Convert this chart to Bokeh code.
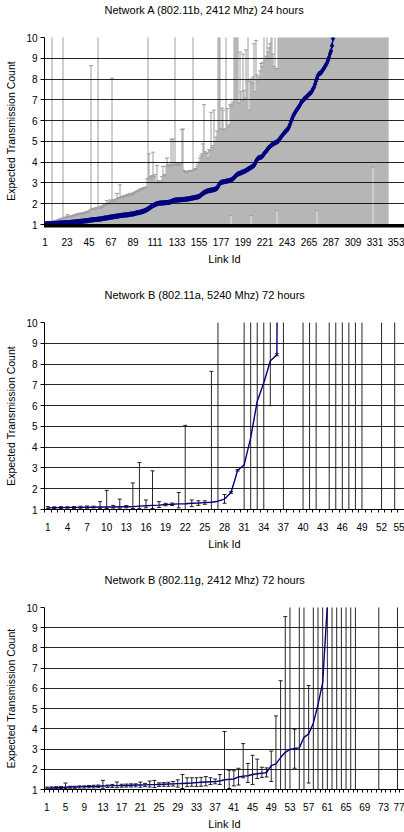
import numpy as np
from bokeh.plotting import figure
from bokeh.layouts import column
from bokeh.models import ColumnDataSource, FixedTicker, Range1d, Title
from bokeh.embed import file_html
from bokeh.resources import INLINE

X = 15.0   # upper end of a bar that leaves the top of the chart (> 10)
_ = None   # nothing drawn for this link

TITLES = ["Network A (802.11b, 2412 Mhz) 24 hours",
          "Network B (802.11a, 5240 Mhz) 72 hours",
          "Network B (802.11g, 2412 Mhz) 72 hours"]
Y_LABEL = "Expected Transmission Count"
X_LABEL = "Link Id"
Y_TICKS = [1, 2, 3, 4, 5, 6, 7, 8, 9, 10]

# ---------------- Network A (802.11b) : 360 links ----------------
links_a = list(range(1, 361))
ticks_a = [1, 23, 45, 67, 89, 111, 133, 155, 177, 199, 221, 243, 265, 287, 309, 331, 353]
mean_a = [
    1.02, 1.02, 1.03, 1.03, 1.03, 1.04, 1.04, 1.04, 1.05, 1.05,
    1.05, 1.05, 1.06, 1.06, 1.06, 1.07, 1.07, 1.07, 1.08, 1.08,
    1.08, 1.09, 1.09, 1.09, 1.10, 1.10, 1.10, 1.11, 1.11, 1.12,
    1.12, 1.13, 1.13, 1.14, 1.14, 1.15, 1.15, 1.16, 1.16, 1.17,
    1.17, 1.18, 1.18, 1.19, 1.20, 1.21, 1.22, 1.22, 1.23, 1.23,
    1.24, 1.24, 1.25, 1.25, 1.26, 1.26, 1.27, 1.28, 1.29, 1.30,
    1.31, 1.31, 1.32, 1.33, 1.34, 1.35, 1.36, 1.36, 1.37, 1.38,
    1.39, 1.40, 1.40, 1.41, 1.42, 1.43, 1.43, 1.44, 1.45, 1.45,
    1.46, 1.46, 1.47, 1.47, 1.48, 1.49, 1.50, 1.50, 1.51, 1.52,
    1.53, 1.55, 1.56, 1.57, 1.58, 1.59, 1.60, 1.62, 1.63, 1.65,
    1.67, 1.69, 1.72, 1.75, 1.78, 1.81, 1.85, 1.88, 1.91, 1.93,
    1.96, 1.98, 2.00, 2.01, 2.02, 2.03, 2.03, 2.04, 2.04, 2.05,
    2.05, 2.05, 2.06, 2.06, 2.07, 2.08, 2.10, 2.12, 2.14, 2.16,
    2.17, 2.18, 2.18, 2.18, 2.19, 2.19, 2.19, 2.20, 2.20, 2.21,
    2.21, 2.22, 2.22, 2.23, 2.24, 2.25, 2.26, 2.27, 2.28, 2.29,
    2.30, 2.31, 2.32, 2.33, 2.35, 2.38, 2.42, 2.46, 2.50, 2.53,
    2.56, 2.58, 2.60, 2.62, 2.63, 2.64, 2.65, 2.66, 2.67, 2.68,
    2.70, 2.72, 2.75, 2.82, 2.92, 2.99, 3.02, 3.04, 3.05, 3.06,
    3.07, 3.08, 3.09, 3.10, 3.11, 3.12, 3.14, 3.17, 3.20, 3.25,
    3.30, 3.36, 3.40, 3.43, 3.45, 3.47, 3.49, 3.51, 3.53, 3.55,
    3.57, 3.60, 3.63, 3.66, 3.69, 3.72, 3.75, 3.78, 3.81, 3.85,
    3.92, 4.05, 4.12, 4.19, 4.21, 4.23, 4.24, 4.28, 4.33, 4.40,
    4.46, 4.52, 4.58, 4.65, 4.70, 4.75, 4.80, 4.84, 4.87, 4.90,
    4.93, 4.95, 4.98, 5.00, 5.08, 5.15, 5.20, 5.27, 5.33, 5.40,
    5.45, 5.50, 5.55, 5.60, 5.70, 5.82, 5.95, 6.08, 6.20, 6.30,
    6.38, 6.46, 6.54, 6.60, 6.68, 6.76, 6.85, 6.92, 6.98, 7.03,
    7.08, 7.12, 7.17, 7.22, 7.27, 7.31, 7.35, 7.43, 7.52, 7.60,
    7.75, 7.90, 8.05, 8.18, 8.25, 8.28, 8.30, 8.38, 8.45, 8.52,
    8.60, 8.70, 8.78, 8.90, 9.05, 9.22, 9.35, 9.60, 9.95, _,
    _, _, _, _, _, _, _, _, _, _,
    _, _, _, _, _, _, _, _, _, _,
    _, _, _, _, _, _, _, _, _, _,
    _, _, _, _, _, _, _, _, _, _,
    _, _, _, _, _, _, _, _, _, _,
    _, _, _, _, _, _, _, _, _, _,
    _, _, _, _, _, _, _, _, _, _,
]
hi_a = [
    1.10, 1.12, 1.10, 1.13, 1.12, 1.15, 1.14, X, 1.16, 1.15,
    1.18, 1.20, 1.17, 1.22, 1.25, 1.22, 1.28, 1.30, X, 1.30,
    1.35, 1.32, 1.40, 1.47, 1.38, 1.35, 1.40, 1.42, 1.40, 1.45,
    1.48, 1.45, 1.50, 1.52, 1.48, 1.55, 1.53, 1.50, 1.55, 1.58,
    1.55, 1.60, 1.62, 1.58, 1.65, 1.70, 8.65, 1.75, 1.72, 1.78,
    1.75, 1.80, 1.82, X, 1.78, 1.85, 1.88, 1.82, 1.90, 1.95,
    1.92, 2.00, 2.15, 1.98, 2.05, 2.18, 2.10, 8.04, 2.15, 2.20,
    2.12, 2.22, 2.50, 2.25, 2.30, 2.91, 2.28, 2.35, 2.32, 2.38,
    2.40, 2.36, 2.45, 2.36, 2.40, 2.50, 2.45, 2.42, 2.50, 2.55,
    2.52, 2.60, 2.58, 2.65, 2.62, 2.70, 2.72, 2.68, 2.75, 2.78,
    2.75, 2.80, 3.20, X, 4.40, 3.30, 3.25, 3.35, 4.48, 3.30,
    3.40, 3.00, 3.84, 3.10, 3.05, 3.00, 3.10, 3.30, 3.80, 3.40,
    3.35, 3.80, 4.20, 3.90, 3.85, 3.80, 5.10, 3.90, 5.12, 3.85,
    X, 3.90, 3.95, 3.85, 3.90, 3.88, 3.95, 5.57, 5.60, 3.60,
    3.55, 3.50, 3.52, 3.55, 3.60, 3.55, 3.58, 3.60, X, 3.62,
    3.70, 3.65, 3.80, 3.90, 4.00, 4.20, 4.30, 4.40, 4.88, 6.77,
    4.50, 4.40, 4.45, 4.20, 4.60, 4.55, 6.40, 4.70, 4.80, 6.50,
    5.00, 5.20, 5.50, X, X, X, 5.60, 6.60, 6.50, 5.55,
    5.60, X, 6.58, 5.70, 5.80, 6.76, 6.70, 6.80, 6.90, X,
    X, X, X, X, 6.85, 9.30, 7.40, 7.00, 9.20, 7.45,
    7.10, 9.40, 7.90, X, 6.50, 7.90, 8.00, 7.80, 8.10, 9.70,
    7.40, 9.85, 8.20, 7.90, 8.10, 8.40, 8.75, 8.60, 8.80, X,
    8.90, 9.10, X, 9.30, 9.50, 9.70, X, X, 9.20, 8.60,
    X, 8.50, 8.50, X, X, X, X, X, X, X,
    X, X, X, X, X, X, X, X, X, X,
    X, X, X, X, X, X, X, X, X, X,
    X, X, X, X, X, X, X, X, X, X,
    X, X, X, X, X, X, X, X, X, X,
    X, X, X, X, X, X, X, X, X, X,
    X, X, X, X, X, X, X, X, X, X,
    X, X, X, X, X, X, X, X, X, X,
    X, X, X, X, X, X, X, X, X, X,
    X, X, X, X, X, X, X, X, X, X,
    X, X, X, X, X, X, X, X, X, X,
    X, X, X, X, _, _, _, _, _, _,
    _, _, _, _, _, _, _, _, _, _,
]
lo_a = [
    1.0, 1.0, 1.0, 1.0, 1.0, 1.0, 1.0, 1.0, 1.0, 1.0,
    1.0, 1.0, 1.0, 1.0, 1.0, 1.0, 1.0, 1.0, 1.0, 1.0,
    1.0, 1.0, 1.0, 1.0, 1.0, 1.0, 1.0, 1.0, 1.0, 1.0,
    1.0, 1.0, 1.0, 1.0, 1.0, 1.0, 1.0, 1.0, 1.0, 1.0,
    1.0, 1.0, 1.0, 1.0, 1.0, 1.0, 1.0, 1.0, 1.0, 1.0,
    1.0, 1.0, 1.0, 1.0, 1.0, 1.0, 1.0, 1.0, 1.0, 1.0,
    1.0, 1.0, 1.0, 1.0, 1.0, 1.0, 1.0, 1.0, 1.0, 1.0,
    1.0, 1.0, 1.0, 1.0, 1.0, 1.0, 1.0, 1.0, 1.0, 1.0,
    1.0, 1.0, 1.0, 1.0, 1.0, 1.0, 1.0, 1.0, 1.0, 1.0,
    1.0, 1.0, 1.0, 1.0, 1.0, 1.0, 1.0, 1.0, 1.0, 1.0,
    1.0, 1.0, 1.0, 1.0, 1.0, 1.0, 1.0, 1.0, 1.0, 1.0,
    1.0, 1.0, 1.0, 1.0, 1.0, 1.0, 1.0, 1.0, 1.0, 1.0,
    1.0, 1.0, 1.0, 1.0, 1.0, 1.0, 1.0, 1.0, 1.0, 1.0,
    1.0, 1.0, 1.0, 1.0, 1.0, 1.0, 1.0, 1.0, 1.0, 1.0,
    1.0, 1.0, 1.0, 1.0, 1.0, 1.0, 1.0, 1.0, 1.0, 1.0,
    1.0, 1.0, 1.0, 1.0, 1.0, 1.0, 1.0, 1.0, 1.0, 1.0,
    1.0, 1.0, 1.0, 1.0, 1.0, 1.0, 1.0, 1.0, 1.0, 1.0,
    1.0, 1.0, 1.0, 1.0, 1.0, 1.0, 1.0, 1.0, 1.0, 1.0,
    1.0, 1.0, 1.0, 1.0, 1.0, 1.0, 1.43, 1.0, 1.0, 1.0,
    1.0, 1.0, 1.0, 1.0, 1.0, 1.0, 1.0, 1.0, 1.0, 1.0,
    1.0, 1.0, 1.0, 1.0, 1.0, 1.0, 1.43, 1.0, 1.0, 1.0,
    1.0, 1.0, 1.0, 1.0, 1.0, 1.0, 1.0, 1.0, 1.0, 1.0,
    1.0, 1.0, 1.0, 1.0, 1.0, 1.0, 1.0, 1.0, 1.0, 1.0,
    1.0, 1.0, 1.67, 1.0, 1.0, 1.0, 1.0, 1.0, 1.0, 1.0,
    1.0, 1.0, 1.0, 1.0, 1.0, 1.0, 1.0, 1.0, 1.0, 1.0,
    1.0, 1.0, 1.0, 1.0, 1.0, 1.0, 1.0, 1.0, 1.0, 1.0,
    1.0, 1.0, 1.0, 1.0, 1.0, 1.0, 1.0, 1.0, 1.0, 1.0,
    1.0, 1.0, 1.67, 1.0, 1.0, 1.0, 1.0, 1.0, 1.0, 1.0,
    1.0, 1.0, 1.0, 1.0, 1.0, 1.0, 1.0, 1.0, 1.0, 1.0,
    1.0, 1.0, 1.0, 1.0, 1.0, 1.0, 1.0, 1.0, 1.0, 1.0,
    1.0, 1.0, 1.0, 1.0, 1.0, 1.0, 1.0, 1.0, 1.0, 1.0,
    1.0, 1.0, 1.0, 1.0, 1.0, 1.0, 1.0, 1.0, 1.0, 1.0,
    1.0, 1.0, 1.0, 1.0, 1.0, 1.0, 1.0, 1.0, 3.76, 1.0,
    1.0, 1.0, 1.0, 1.0, 1.0, 1.0, 1.0, 1.0, 1.0, 1.0,
    1.0, 1.0, 1.0, 1.0, _, _, _, _, _, _,
    _, _, _, _, _, _, _, _, _, _,
]

# ---------------- Network B (802.11a) : 55 links ----------------
links_b = list(range(1, 56))
ticks_b = [1, 4, 7, 10, 13, 16, 19, 22, 25, 28, 31, 34, 37, 40, 43, 46, 49, 52, 55]
mean_b = [1.08, 1.09, 1.09, 1.10, 1.10, 1.10, 1.11, 1.11, 1.12, 1.12,
          1.12, 1.13, 1.13, 1.14, 1.16, 1.18, 1.20, 1.21, 1.24, 1.25,
          1.27, 1.28, 1.30, 1.31, 1.33, 1.35, 1.40, 1.50, 1.82, 2.88,
          3.15, 4.45, 6.20, 7.10, 8.15, 8.45, 60.0, _, _, _,
          _, _, _, _, _, _, _, _, _, _,
          _, _, _, _, _]
lo_b = [1.04, 1.05, 1.05, 1.06, 1.05, 1.06, 1.06, 1.07, 1.05, 1.05,
        1.07, 1.06, 1.08, 1.05, 1.05, 1.08, 1.05, 1.10, 1.18, 1.19,
        1.08, 1.00, 1.14, 1.20, 1.25, 1.00, 1.00, 1.30, 1.78, 2.85,
        1.00, 1.00, 1.00, 1.00, 6.00, 8.40, 1.00, _, _, 1.00,
        1.00, 1.00, _, 1.00, 1.00, 1.00, 1.00, 1.00, 1.00, _,
        _, 1.00, _, 1.00, _]
hi_b = [1.14, 1.13, 1.14, 1.13, 1.14, 1.16, 1.17, 1.16, 1.38, 1.92,
        1.20, 1.50, 1.19, 2.28, 3.26, 1.46, 2.86, 1.38, 1.30, 1.31,
        1.82, 5.05, 1.46, 1.42, 1.42, 7.65, X, 1.72, 1.86, 2.92,
        X, X, X, X, X, 8.50, X, _, _, X,
        X, X, _, X, X, X, X, X, X, _,
        _, X, _, X, _]

# ---------------- Network B (802.11g) : 77 links ----------------
links_c = list(range(1, 78))
ticks_c = [1, 5, 9, 13, 17, 21, 25, 29, 33, 37, 41, 45, 49, 53, 57, 61, 65, 69, 73, 77]
mean_c = [1.07, 1.08, 1.09, 1.10, 1.11, 1.12, 1.12, 1.13, 1.14, 1.15,
          1.15, 1.16, 1.17, 1.18, 1.19, 1.19, 1.20, 1.20, 1.21, 1.22,
          1.22, 1.23, 1.24, 1.24, 1.25, 1.26, 1.27, 1.28, 1.29, 1.30,
          1.31, 1.32, 1.34, 1.36, 1.37, 1.38, 1.39, 1.42, 1.48, 1.50,
          1.52, 1.62, 1.66, 1.68, 1.74, 1.78, 1.80, 1.84, 2.18, 2.27,
          2.58, 2.84, 2.98, 3.03, 3.06, 3.58, 3.75, 4.28, 5.20, 6.28,
          10.15, _, _, _, _, _, _, _, _, _,
          _, _, _, _, _, _, _]
lo_c = [1.03, 1.04, 1.04, 1.05, 1.05, 1.06, 1.06, 1.07, 1.07, 1.08,
        1.08, 1.09, 1.06, 1.10, 1.10, 1.09, 1.11, 1.12, 1.12, 1.13,
        1.11, 1.14, 1.12, 1.10, 1.15, 1.16, 1.16, 1.17, 1.12, 1.05,
        1.14, 1.16, 1.15, 1.16, 1.18, 1.25, 1.28, 1.25, 1.00, 1.05,
        1.18, 1.22, 1.58, 1.35, 1.25, 1.54, 1.60, 1.62, 1.40, 1.00,
        1.00, 1.00, 1.00, 2.05, 1.00, 1.00, 1.32, 1.00, 1.00, 1.00,
        1.00, 1.00, 1.00, 1.00, 1.00, 1.00, 1.00, _, _, _,
        _, 1.00, _, _, _, 1.00, _]
hi_c = [1.12, 1.13, 1.14, 1.15, 1.32, 1.16, 1.16, 1.18, 1.18, 1.20,
        1.21, 1.22, 1.45, 1.22, 1.25, 1.37, 1.26, 1.27, 1.28, 1.28,
        1.37, 1.30, 1.42, 1.45, 1.33, 1.34, 1.36, 1.40, 1.48, 1.74,
        1.58, 1.58, 1.58, 1.60, 1.64, 1.58, 1.52, 1.74, 3.87, 1.95,
        1.93, 2.05, 3.27, 2.29, 2.69, 2.50, 2.10, 2.07, 2.90, 4.64,
        6.38, 9.55, X, 3.98, X, X, 6.14, X, X, X,
        X, X, X, X, X, X, X, _, _, _,
        _, X, _, _, _, X, _]

FONT = "Liberation Sans"
NAVY = "#000080"


def arr(values):
    return np.array(values, dtype=float)


def make_panel(title, links, mean, lo, hi, ticks, height, bottom,
               bar_color, bar_alpha, markers):
    n = len(links)
    p = figure(width=404, height=height, output_backend="svg", toolbar_location=None,
               x_range=Range1d(0.5, n + 0.5), y_range=Range1d(1, 10),
               min_border_left=44, min_border_right=0, min_border_top=37,
               min_border_bottom=bottom, outline_line_color=None,
               background_fill_color="white", border_fill_color="white")
    # blank band between the frame and the title (keeps the title near the top)
    p.add_layout(Title(text=" ", text_font=FONT, text_font_size="11px", standoff=8), "above")
    p.title.text = title
    p.title.text_font = FONT
    p.title.text_font_size = "11px"
    p.title.text_font_style = "normal"
    p.title.text_color = "black"
    p.title.align = "left"
    p.title.offset = 60
    p.title.vertical_align = "bottom"
    p.title.standoff = 0

    src = ColumnDataSource(dict(x=links, m=arr(mean), lo=arr(lo), hi=arr(hi)))
    bars = p.segment(x0="x", y0="lo", x1="x", y1="hi", source=src,
                     line_color=bar_color, line_alpha=bar_alpha, line_width=1)
    bars.level = "image"
    for col in ("hi", "lo"):
        cap = p.scatter(x="x", y=col, source=src, marker="dash", size=4,
                        line_color=bar_color, line_alpha=bar_alpha, line_width=1)
        cap.level = "image"

    if markers:
        p.line(x="x", y="m", source=src, line_color=NAVY, line_width=1.5)
        p.scatter(x="x", y="m", source=src, marker="diamond", size=5,
                  fill_color=NAVY, line_color=NAVY)
    else:
        p.line(x="x", y="m", source=src, line_color=NAVY, line_width=1.4)

    xa = p.xaxis[0]
    xa.ticker = FixedTicker(ticks=ticks, minor_ticks=[k + 0.5 for k in range(0, n + 1)])
    xa.major_tick_out = 0
    xa.major_tick_in = 0
    xa.minor_tick_out = 3
    xa.minor_tick_in = 0
    xa.minor_tick_line_color = "black"
    xa.axis_line_color = "black"
    xa.major_label_standoff = 10
    xa.major_label_text_font = FONT
    xa.major_label_text_font_size = "10px"
    xa.major_label_text_color = "black"
    xa.axis_label = X_LABEL
    xa.axis_label_text_font = FONT
    xa.axis_label_text_font_size = "11px"
    xa.axis_label_text_font_style = "normal"
    xa.axis_label_text_color = "black"
    xa.axis_label_standoff = 4

    ya = p.yaxis[0]
    ya.ticker = FixedTicker(ticks=Y_TICKS)
    ya.major_tick_out = 4
    ya.major_tick_in = 0
    ya.minor_tick_out = 0
    ya.minor_tick_in = 0
    ya.axis_line_color = "black"
    ya.major_tick_line_color = "black"
    ya.major_label_standoff = 3
    ya.major_label_text_font = FONT
    ya.major_label_text_font_size = "10px"
    ya.major_label_text_color = "black"
    ya.axis_label = Y_LABEL
    ya.axis_label_text_font = FONT
    ya.axis_label_text_font_size = "10.5px"
    ya.axis_label_text_font_style = "normal"
    ya.axis_label_text_color = "black"
    ya.axis_label_standoff = 6

    p.xgrid.visible = False
    p.ygrid.ticker = FixedTicker(ticks=Y_TICKS)
    p.ygrid.grid_line_color = "black"
    p.ygrid.grid_line_width = 1
    p.ygrid.grid_line_alpha = 0.85
    return p


p1 = make_panel(TITLES[0], links_a, mean_a, lo_a, hi_a, ticks_a, 285, 61,
                "#9e9e9e", 1.0, True)
p2 = make_panel(TITLES[1], links_b, mean_b, lo_b, hi_b, ticks_b, 285, 61,
                "#000000", 0.85, False)
p3 = make_panel(TITLES[2], links_c, mean_c, lo_c, hi_c, ticks_c, 262, 38,
                "#000000", 0.85, False)

layout = column(p1, p2, p3, spacing=0)
open("out.html", "w").write(file_html(layout, INLINE))
